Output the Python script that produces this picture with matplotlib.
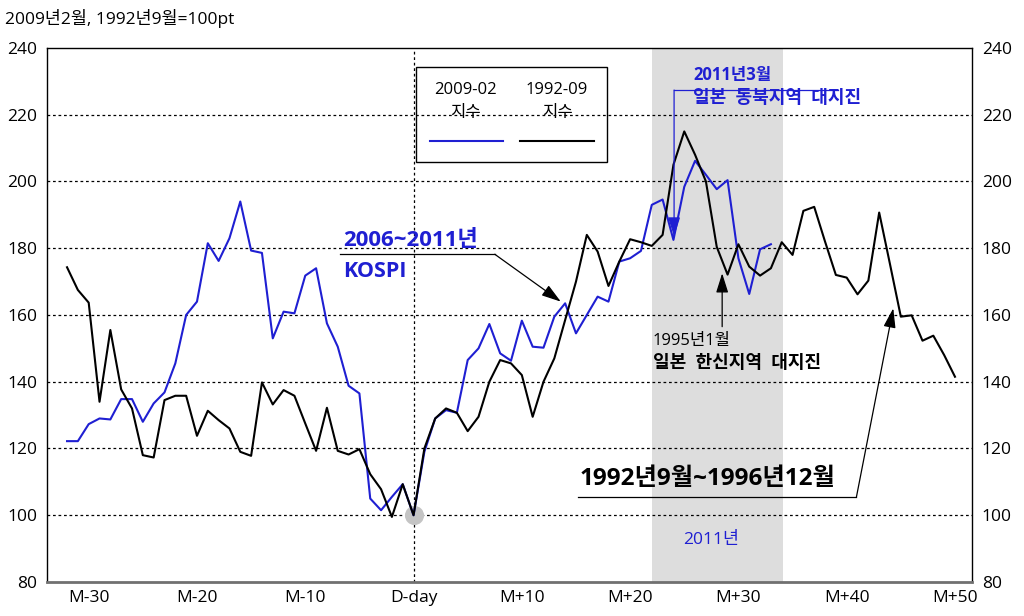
import matplotlib
matplotlib.use("Agg")
import matplotlib.pyplot as plt
from matplotlib.patches import Rectangle

# 숫자/라틴은 Open Sans, 한글은 Noto Sans CJK KR
plt.rcParams['font.family'] = ['Open Sans', 'Noto Sans CJK KR', 'DejaVu Sans']

# 월 (D-day 기준), 지수 (=100pt)
months_black = list(range(-32, 51))
idx_1992 = [174.3, 167.5, 163.7, 134, 155.5, 137.7, 132, 118, 117.3, 134.5,
            135.8, 135.8, 123.8, 131.3, 128.5, 126, 119, 117.8, 139.8, 133.2,
            137.5, 135.8, 127.5, 119.3, 132.2, 119.3, 118.2, 119.8, 112.3, 107.8,
            99.5, 109.3, 100,
            120, 129, 132, 130.7, 125.2, 129.5, 140, 146.5, 145.5, 142,
            129.5, 140, 147, 158.5, 170, 184, 179, 168.7, 176, 182.7,
            181.8, 180.7, 184, 205, 215, 208, 200, 180.4, 172.1, 181.2,
            174.5, 171.8, 174, 181.8, 178, 191.2, 192.4, 182, 172, 171.2,
            166.2, 170.3, 190.7, 175.2, 159.5, 159.9, 152.3, 153.8, 148, 141.5]

months_blue = list(range(-32, 34))
idx_2009 = [122.2, 122.2, 127.3, 129, 128.7, 134.8, 134.8, 128, 133.5, 136.8,
            145.5, 160, 164, 181.5, 176.2, 183, 194, 179.3, 178.6, 153,
            161, 160.5, 171.8, 174, 157.5, 150.5, 138.8, 136.5, 105, 101.5,
            105.5, 109.3, 100,
            119, 129, 131.5, 130.7, 146.5, 150, 157.3, 148.5, 146.3, 158.3,
            150.5, 150.2, 159.5, 163.5, 154.5, 160, 165.5, 164, 176, 177,
            179.2, 193, 194.6, 182.5, 198.4, 206.2, 202, 197.7, 200.4, 177,
            166.3, 179.7, 181.2]

tick_pos = [-30, -20, -10, 0, 10, 20, 30, 40, 50]
tick_lab = ['M-30', 'M-20', 'M-10', 'D-day', 'M+10', 'M+20', 'M+30', 'M+40', 'M+50']

BLUE = '#1f1fd2'

fig = plt.figure(figsize=(10.24, 6.16), dpi=100)
ax = fig.add_axes([0.0459, 0.0552, 0.9033, 0.8669])
ax.set_xlim(-33.85, 51.57)
ax.set_ylim(80, 240)

# 2011년 음영
ax.axvspan(22.02, 34.12, color='#dddddd', zorder=0, lw=0)

# 점선 격자
for v in range(100, 240, 20):
    ax.axhline(v, color='black', lw=0.9, ls=(0, (2.2, 2.2)), zorder=1)
ax.axvline(0, color='black', lw=0.9, ls=(0, (2.2, 2.2)), zorder=1)

ax.scatter([0], [100], s=190, color='#c4c4c4', zorder=2, lw=0)

ax.plot(months_blue, idx_2009, color=BLUE, lw=1.5, zorder=3)
ax.plot(months_black, idx_1992, color='black', lw=1.5, zorder=4)

ax.set_xticks(tick_pos)
ax.set_xticklabels(tick_lab)
ax.set_yticks(range(80, 241, 20))
ax.tick_params(axis='both', length=0, labelsize=12.5)
ax.tick_params(axis='x', pad=6)
ax.tick_params(axis='y', pad=7, labelright=True)
for s in ['left', 'top', 'right']:
    ax.spines[s].set_linewidth(1.0)
ax.spines['bottom'].set_color('#707070')
ax.spines['bottom'].set_linewidth(2.0)

fig.text(0.005, 0.97, '2009년2월, 1992년9월=100pt', fontsize=12.5, va='center')

# 범례
ax.add_patch(Rectangle((0.2, 205.8), 17.7, 28.5, fill=False, ec='black', lw=1.0, zorder=5))
ax.text(4.76, 227.4, '2009-02', ha='center', va='center', fontsize=12, zorder=6)
ax.text(4.76, 220.5, '지수', ha='center', va='center', fontsize=12, zorder=6)
ax.text(13.25, 227.4, '1992-09', ha='center', va='center', fontsize=12, zorder=6)
ax.text(13.25, 220.5, '지수', ha='center', va='center', fontsize=12, zorder=6)
ax.plot([1.52, 8.26], [212.1, 212.1], color=BLUE, lw=1.5, zorder=6)
ax.plot([9.83, 16.7], [212.1, 212.1], color='black', lw=1.5, zorder=6)

arrow_k = dict(arrowstyle='-|>,head_length=0.7,head_width=0.22', color='black',
               lw=0.9, mutation_scale=17, shrinkA=0, shrinkB=0)
arrow_b = dict(arrow_k, color=BLUE)

# 2006~2011년 KOSPI
ax.text(-6.5, 182.4, '2006~2011년', color=BLUE, fontsize=16, fontweight='bold',
        va='center', zorder=6)
ax.text(-6.5, 172.9, 'KOSPI', color=BLUE, fontsize=15.5, fontweight='bold',
        va='center', zorder=6)
ax.plot([-6.8, 7.5], [178.2, 178.2], color='black', lw=0.9, zorder=6)
ax.annotate('', xy=(13.6, 164), xytext=(7.5, 178.2), arrowprops=arrow_k, zorder=6)

# 2011년3월 동북 대지진
ax.text(25.8, 231.9, '2011년3월', color=BLUE, fontsize=12, fontweight='bold',
        va='center', zorder=6)
ax.text(25.8, 225.0, '일본  동북지역  대지진', color=BLUE, fontsize=13, fontweight='bold',
        va='center', zorder=6)
ax.plot([24.06, 39.2], [227.4, 227.4], color=BLUE, lw=0.9, zorder=6)
ax.annotate('', xy=(24.06, 183.5), xytext=(24.06, 227.4), arrowprops=arrow_b, zorder=6)

# 1995년1월 한신 대지진
ax.text(22.1, 152.2, '1995년1월', color='black', fontsize=12, va='center', zorder=6)
ax.text(22.1, 145.6, '일본  한신지역  대지진', color='black', fontsize=13, fontweight='bold',
        va='center', zorder=6)
ax.annotate('', xy=(28.5, 172.5), xytext=(28.5, 156.5), arrowprops=arrow_k, zorder=6)

# 1992년9월~1996년12월
ax.text(15.3, 111, '1992년9월~1996년12월', color='black', fontsize=17.5,
        fontweight='bold', va='center', zorder=6)
ax.plot([15.2, 40.9], [105.5, 105.5], color='black', lw=0.9, zorder=6)
ax.annotate('', xy=(44.3, 162), xytext=(40.9, 105.5), arrowprops=arrow_k, zorder=6)

ax.text(27.5, 92.5, '2011년', color=BLUE, fontsize=12.5, ha='center', va='center', zorder=6)

fig.savefig('out.png', dpi=100)
